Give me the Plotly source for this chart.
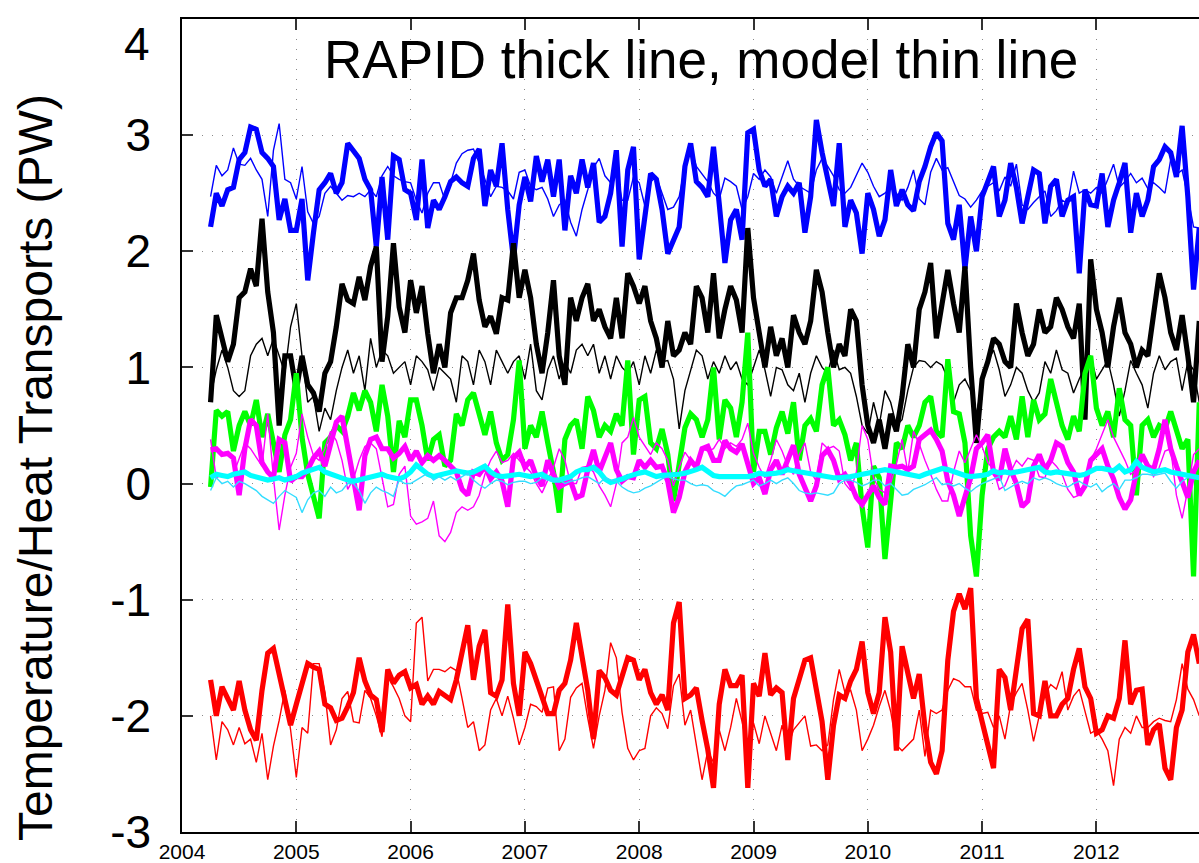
import plotly.graph_objects as go

# ---------------- data (values in PW, every 0.05 yr from 2004.25) ----------------
T0 = 2004.25
DT = 0.05

blue_rapid = [2.21, 2.5, 2.39, 2.53, 2.55, 2.79, 2.85, 3.07, 3.05, 2.85, 2.8, 2.73, 2.27, 2.45, 2.18, 2.18, 2.45, 1.75, 2.16, 2.53,
              2.59, 2.67, 2.5, 2.59, 2.93, 2.87, 2.8, 2.62, 2.53, 2.04, 2.64, 2.1, 2.82, 2.79, 2.53, 2.5, 2.27, 2.79, 2.2, 2.44,
              2.36, 2.47, 2.6, 2.64, 2.59, 2.56, 2.8, 2.88, 2.39, 2.7, 2.56, 2.93, 2.36, 1.93, 2.4,
              2.64, 2.43, 2.82, 2.6, 2.79, 2.47, 2.79, 2.18, 2.65, 2.5, 2.79, 2.55, 2.76, 2.25, 2.3, 2.5, 2.87, 2.04, 2.7, 2.9,
              1.93, 2.27, 2.67, 2.62, 2.36, 1.98, 2.1, 2.21, 2.73, 2.93, 2.6, 2.55, 2.47, 2.9, 2.41, 1.9, 2.27, 2.36, 2.1, 3.02,
              3.05, 2.7, 2.56, 2.62, 2.3, 2.47, 2.56, 2.5, 2.59, 2.16, 2.47, 3.13, 2.85, 2.6, 2.39, 2.93, 2.21, 2.44, 2.33, 1.98,
              2.5, 2.36, 2.13, 2.27, 2.7, 2.39, 2.53,
              2.4, 2.35, 2.6, 2.73, 2.9, 3.02, 2.95, 2.24, 2.1, 2.4, 1.85, 2.3, 2.0, 2.47, 2.6, 2.73, 2.3, 2.44, 2.76, 2.55,
              2.24, 2.5, 2.7, 2.67, 2.24, 2.56, 2.62, 2.3, 2.44, 2.47, 1.81, 2.53, 2.4, 2.39, 2.67, 2.21, 2.44, 2.59, 2.76, 2.16,
              2.5, 2.3, 2.44, 2.73, 2.79, 2.9, 2.85, 2.64, 3.08, 2.47, 1.67, 2.2]

blue_model = [2.47, 2.74, 2.65, 2.7, 2.89, 2.75, 2.74, 2.8, 2.7, 2.62, 2.3, 2.87, 3.1, 2.62, 2.59, 2.45, 2.73, 2.34, 2.24, 2.3,
              2.5, 2.56, 2.5, 2.44, 2.48, 2.47, 2.5, 2.47, 2.53, 2.47, 2.65, 2.73, 2.65, 2.62, 2.6, 2.59, 2.44, 2.33, 2.5, 2.59,
              2.59, 2.44, 2.59, 2.76, 2.84, 2.87, 2.88, 2.76, 2.62, 2.47, 2.56, 2.55, 2.52, 2.45, 2.68,
              2.7, 2.56, 2.53, 2.55, 2.45, 2.3, 2.4, 2.44, 2.25, 2.13, 2.36, 2.53, 2.72, 2.8, 2.65, 2.59, 2.7, 2.44, 2.44, 2.64,
              2.59, 2.39, 2.6, 2.64, 2.5, 2.36, 2.38, 2.47, 2.73, 2.9, 2.73, 2.67, 2.6, 2.5, 2.45, 2.63, 2.6, 2.56, 2.36, 2.47,
              2.67, 2.62, 2.7, 2.64, 2.5, 2.64, 2.78, 2.62, 2.56, 2.53, 2.5, 2.7, 2.8, 2.73, 2.65, 2.53, 2.5, 2.55, 2.66, 2.76,
              2.68, 2.56, 2.47, 2.5, 2.55, 2.5, 2.44,
              2.55, 2.7, 2.45, 2.4, 2.68, 2.8, 2.7, 2.72, 2.6, 2.48, 2.45, 2.38, 2.44, 2.52, 2.56, 2.59, 2.52, 2.64, 2.56, 2.75,
              2.4, 2.36, 2.42, 2.47, 2.52, 2.3, 2.35, 2.44, 2.41, 2.69, 2.5, 2.53, 2.5, 2.55, 2.5, 2.62, 2.75, 2.55, 2.6, 2.67,
              2.59, 2.63, 2.54, 2.59, 2.55, 2.5, 2.79, 2.66, 2.7, 2.47, 2.21, 2.2]

black_rapid = [0.7, 1.45, 1.25, 1.05, 1.2, 1.6, 1.65, 1.85, 1.7, 2.28, 1.65, 1.3, 0.5, 1.1, 1.1, 0.8, 1.1, 0.85, 0.78, 0.62,
               0.95, 1.05, 1.35, 1.72, 1.58, 1.55, 1.78, 1.58, 1.87, 2.04, 1.05, 1.44, 2.07, 1.52, 1.3, 1.75, 1.47, 1.7, 1.29, 0.95,
               1.2, 1.0, 1.47, 1.6, 1.6, 1.75, 1.98, 1.58, 1.35, 1.44, 1.29, 1.6, 1.58, 2.07, 1.6,
               1.84, 1.6, 1.2, 0.95, 1.3, 1.75, 1.1, 0.85, 1.6, 1.4, 1.6, 1.72, 1.4, 1.5, 1.35, 1.25, 1.6, 1.25, 1.81, 1.7,
               1.55, 1.7, 1.4, 1.25, 1.0, 1.4, 1.1, 1.15, 1.3, 1.2, 1.7, 1.6, 1.3, 1.81, 1.25, 1.5, 1.7, 1.58, 1.3, 2.2,
               1.6, 1.3, 1.0, 1.35, 1.1, 1.25, 1.0, 1.45, 1.3, 1.2, 1.4, 1.84, 1.65, 1.3, 1.0, 1.2, 1.1, 1.5, 1.4, 0.85,
               0.5, 0.35, 0.55, 0.3, 0.6, 0.45, 0.75,
               1.2, 1.0, 1.5, 1.65, 1.9, 1.25, 1.55, 1.84, 1.55, 1.3, 1.87, 1.0, 0.35, 0.9, 1.05, 1.25, 1.2, 1.05, 1.0, 1.55,
               1.3, 1.1, 1.2, 1.5, 1.3, 1.35, 1.6, 1.5, 1.35, 1.25, 1.55, 0.55, 1.93, 1.5, 1.3, 1.0, 1.35, 1.6, 1.3, 1.2,
               1.0, 1.15, 1.1, 1.5, 1.81, 1.6, 1.3, 1.15, 1.45, 1.1, 0.7, 1.4]

black_model = [0.75, 0.98, 1.15, 1.0, 0.8, 0.75, 0.8, 1.1, 1.2, 1.25, 1.1, 1.25, 1.1, 0.95, 1.35, 1.55, 1.1, 0.7, 0.75, 0.45,
               0.65, 0.55, 0.8, 1.0, 1.15, 0.95, 1.1, 0.8, 1.25, 1.0, 1.15, 1.1, 0.95, 1.0, 1.05, 0.85, 1.1, 1.05, 0.98, 0.8,
               1.0, 0.95, 0.9, 0.7, 1.1, 1.05, 0.85, 1.15, 1.05, 0.85, 1.15, 1.05, 0.95, 1.05, 1.1,
               0.9, 1.2, 0.8, 0.72, 0.98, 1.1, 0.9, 1.05, 0.95, 1.15, 1.2, 1.1, 1.2, 0.95, 1.1, 0.9, 1.1, 1.0, 0.95, 1.05,
               0.85, 1.1, 0.95, 1.15, 1.05, 1.06, 0.9, 0.47, 0.8, 0.98, 1.15, 1.1, 0.9, 1.05, 0.95, 1.1, 0.98, 1.05, 0.9, 0.85,
               1.0, 1.15, 0.98, 0.75, 1.0, 0.98, 0.85, 0.8, 0.95, 0.7, 0.95, 1.1, 1.0, 0.95, 1.15, 0.98, 1.0, 0.95, 0.75, 0.5,
               0.43, 0.7, 0.5, 0.8, 0.7, 0.5, 0.55,
               0.8, 1.0, 1.06, 1.05, 1.0, 1.05, 1.02, 0.9, 0.7, 0.85, 0.9, 0.8, 0.6, 0.85, 1.05, 1.15, 0.98, 0.75, 0.85, 1.0,
               0.95, 0.8, 0.7, 0.78, 1.05, 0.95, 1.15, 0.98, 0.95, 0.78, 0.9, 1.0, 1.1, 0.9, 0.98, 1.06, 0.85, 0.58, 0.8, 1.06,
               0.95, 0.85, 0.65, 0.95, 1.1, 0.98, 1.05, 1.08, 0.8, 1.05, 0.98, 0.7]

green_rapid = [-0.03, 0.63, 0.58, 0.62, 0.28, 0.5, 0.62, 0.5, 0.72, 0.4, 0.6, 0.35, 0.1, 0.42, 0.55, 0.95, 0.4, 0.08, -0.12, -0.3,
               0.35, 0.4, 0.5, 0.45, 0.58, 0.78, 0.63, 0.8, 0.7, 0.45, 0.85, 0.58, 0.1, 0.54, 0.4, 0.72, 0.72, 0.5, 0.2, 0.38,
               0.42, 0.15, 0.2, 0.6, 0.5, 0.72, 0.78, 0.6, 0.42, 0.62, 0.35, 0.2, 0.25, 0.55, 1.06,
               0.3, 0.5, 0.4, 0.62, 0.35, 0.1, -0.25, 0.38, 0.5, 0.55, 0.3, 0.75, 0.63, 0.4, 0.5, 0.45, 0.6, 0.5, 1.06, 0.25,
               0.72, 0.75, 0.35, 0.3, 0.47, 0.25, -0.15, 0.2, 0.48, 0.6, 0.55, 0.4, 0.55, 1.0, 0.38, 0.72, 0.65, 0.4, 0.7, 1.3,
               0.1, 0.45, 0.45, 0.25, 0.48, 0.62, 0.43, 0.7, 0.2, 0.5, 0.56, 0.45, 0.85, 1.0, 0.5, 0.55, 0.42, 0.2, 0.35, -0.2,
               -0.55, 0.15, 0.05, -0.65, -0.1, 0.35, 0.3,
               0.5, 0.4, 0.5, 0.7, 0.75, 0.45, 0.4, 1.07, 0.62, 0.6, 0.35, -0.45, -0.8, -0.1, 0.3, 0.4, 0.45, 0.4, 0.58, 0.38,
               0.75, 0.4, 0.72, 0.55, 0.6, 0.9, 0.7, 0.5, 0.38, 0.58, 0.45, 0.95, 1.1, 0.65, 0.5, 0.62, 0.4, 0.82, 0.55, 0.5,
               -0.1, 0.5, 0.55, 0.4, 0.5, 0.47, 0.62, 0.45, 0.3, 0.38, -0.8, 0.7]

magenta_rapid = [0.29, 0.3, 0.25, 0.26, 0.22, -0.1, 0.3, 0.55, 0.5, 0.18, 0.1, 0.05, 0.38, 0.35, 0.02, 0.06, 0.06, 0.12, 0.22, 0.28,
                 0.15, 0.32, 0.53, 0.58, 0.32, 0.06, -0.23, 0.24, 0.38, 0.4, 0.3, 0.3, 0.22, 0.26, 0.32, 0.2, 0.28, 0.18, 0.24, 0.2,
                 0.24, 0.2, 0.15, 0.1, -0.05, -0.1, 0.1, 0.08, 0.15, 0.04, 0.1, 0.02, -0.2, 0.22, 0.27,
                 0.14, 0.2, 0.06, -0.02, 0.2, 0.08, -0.03, 0.0, 0.02, -0.12, -0.1, 0.12, 0.29, 0.1, 0.23, 0.35, 0.12, 0.02, 0.06, 0.05,
                 0.2, 0.14, 0.2, 0.14, 0.15, 0.02, -0.25, -0.12, 0.1, 0.2, 0.14, 0.3, 0.32, 0.2, 0.2, 0.37, 0.3, 0.27, 0.34, 0.17,
                 0.0, 0.05, -0.09, 0.12, 0.2, 0.08, 0.22, 0.33, 0.08, -0.05, -0.15, -0.02, 0.24, 0.29, 0.2, 0.04, 0.08, 0.0, -0.12, -0.18,
                 -0.1, -0.02, -0.12, -0.18, 0.15, 0.14, 0.15,
                 0.12, 0.15, 0.38, 0.42, 0.46, 0.38, 0.28, 0.02, -0.1, -0.28, -0.1, 0.05, 0.3, 0.35, 0.42, 0.1, 0.03, 0.3, 0.12, 0.0,
                 -0.2, -0.15, 0.15, 0.25, 0.12, 0.2, 0.35, 0.32, 0.18, 0.1, -0.1, -0.02, 0.2, 0.25, 0.3, 0.15, 0.04, -0.12, -0.22, -0.14,
                 0.1, 0.25, 0.15, 0.12, 0.3, 0.55, 0.3, 0.15, 0.02, -0.12, 0.1, 0.2]

magenta_model = [0.38, 0.05, 0.08, 0.06, 0.08, 0.22, 0.35, 0.3, 0.22, 0.15, 0.6, 0.05, -0.4, -0.1, 0.14, 0.26, 0.6, 0.4, 0.24, 0.2,
                 0.3, 0.45, 0.37, 0.2, -0.05, 0.04, 0.2, 0.32, 0.35, 0.3, 0.05, -0.2, -0.18, 0.08, 0.15, -0.28, -0.35, -0.33, -0.3, -0.15,
                 -0.45, -0.5, -0.42, -0.25, -0.2, -0.23, -0.2, -0.1, 0.08, 0.2, 0.28, 0.18, 0.2, 0.26, 0.2,
                 0.15, 0.1, 0.0, -0.08, 0.03, 0.14, 0.3, 0.2, 0.0, 0.0, 0.14, 0.15, 0.1, -0.02, -0.1, -0.2, 0.0, 0.35, 0.4, 0.57,
                 0.4, 0.33, 0.25, 0.35, 0.3, 0.2, -0.02, 0.14, 0.27, 0.2, 0.12, 0.3, 0.28, 0.3, 0.38, 0.3, 0.35, 0.32, 0.38, 0.52,
                 0.26, 0.14, 0.05, 0.2, 0.38, 0.28, 0.15, 0.08, 0.25, 0.35, 0.1, 0.02, 0.35, 0.3, 0.32, 0.28, 0.0, -0.06, 0.1, 0.5,
                 0.38, 0.05, -0.05, -0.08, 0.0, 0.17, 0.38,
                 0.1, 0.45, 0.34, 0.2, 0.08, -0.05, -0.15, -0.15, 0.1, 0.28, 0.18, 0.3, 0.42, 0.32, 0.18, 0.12, -0.05, -0.02, 0.1, 0.2,
                 0.15, 0.22, 0.2, 0.06, 0.05, 0.2, 0.15, 0.08, -0.05, -0.12, -0.1, 0.0, 0.2, 0.3, 0.43, 0.55, 0.4, 0.3, 0.2, 0.08,
                 0.12, 0.22, 0.15, 0.06, 0.14, 0.28, 0.3, -0.1, -0.3, -0.05, 0.25, 0.3]

cyan_rapid = [0.05, 0.08, 0.07, 0.06, 0.08, 0.09, 0.1, 0.07, 0.06, 0.05, 0.03, 0.04, 0.05, 0.03, 0.04, 0.06, 0.09, 0.11, 0.12, 0.14,
              0.1, 0.08, 0.06, 0.04, 0.03, 0.02, 0.03, 0.04, 0.05, 0.07, 0.08, 0.06, 0.05, 0.04, 0.06, 0.1, 0.16, 0.12, 0.08, 0.06,
              0.07, 0.08, 0.09, 0.11, 0.1, 0.09, 0.1, 0.13, 0.15, 0.1, 0.07, 0.06, 0.07, 0.08, 0.08,
              0.07, 0.06, 0.07, 0.08, 0.05, 0.03, 0.03, 0.04, 0.06, 0.1, 0.12, 0.12, 0.14, 0.1, 0.04, 0.01, 0.02, 0.04, 0.06, 0.08,
              0.09, 0.1, 0.08, 0.06, 0.07, 0.07, 0.07, 0.08, 0.09, 0.1, 0.12, 0.14, 0.1, 0.07, 0.06, 0.06, 0.06, 0.05, 0.05, 0.06,
              0.07, 0.09, 0.08, 0.08, 0.09, 0.1, 0.12, 0.11, 0.1, 0.09, 0.08, 0.07, 0.06, 0.06, 0.05, 0.05, 0.05, 0.06, 0.07, 0.08,
              0.09, 0.1, 0.11, 0.12, 0.11, 0.1, 0.09,
              0.08, 0.07, 0.06, 0.08, 0.1, 0.11, 0.13, 0.12, 0.1, 0.09, 0.07, 0.06, 0.06, 0.07, 0.08, 0.11, 0.09, 0.1, 0.09, 0.1,
              0.1, 0.11, 0.12, 0.14, 0.1, 0.09, 0.1, 0.09, 0.08, 0.08, 0.07, 0.08, 0.1, 0.13, 0.13, 0.12, 0.11, 0.15, 0.1, 0.12,
              0.19, 0.14, 0.12, 0.1, 0.11, 0.12, 0.1, 0.09, 0.08, 0.06, 0.05, 0.05]

cyan_model = [-0.06, 0.05, 0.0, 0.02, -0.03, 0.02, 0.0, -0.03, -0.06, -0.11, -0.14, -0.17, -0.11, -0.06, -0.09, -0.12, -0.25, -0.14, -0.08, -0.06,
              -0.11, -0.03, -0.08, -0.06, 0.0, 0.0, -0.06, -0.17, -0.08, -0.03, -0.06, -0.08, -0.11, 0.03, 0.0, 0.0, 0.03, 0.06, 0.09, 0.03,
              0.06, 0.03, 0.06, 0.03, 0.06, 0.09, 0.03, -0.01, -0.04, 0.0, 0.03, 0.02, -0.01, 0.01, 0.02,
              0.02, 0.0, 0.01, 0.05, 0.03, 0.02, 0.03, 0.0, 0.02, 0.03, 0.05, 0.06, 0.03, 0.0, 0.05, 0.03, 0.02, -0.03, -0.06, -0.08,
              -0.07, -0.04, -0.02, 0.01, 0.04, 0.06, 0.04, 0.03, 0.03, 0.0, -0.02, -0.01, -0.02, -0.06, -0.08, -0.11, -0.06, -0.02, -0.01, 0.01,
              0.03, -0.02, 0.0, 0.03, 0.0, 0.03, 0.05, 0.0, -0.06, -0.08, -0.09, -0.08, -0.09, -0.1, -0.08, 0.0, 0.03, 0.03, 0.01, -0.02,
              0.0, 0.03, 0.03, -0.02, 0.0, -0.05, -0.1,
              -0.09, -0.05, -0.03, -0.01, 0.02, 0.05, -0.01, 0.0, -0.02, 0.0, -0.04, -0.07, -0.03, 0.0, 0.02, 0.04, 0.06, -0.06, -0.03, 0.0,
              0.02, 0.0, 0.05, 0.03, 0.05, 0.03, 0.0, -0.02, -0.03, 0.0, 0.02, -0.01, -0.03, 0.0, -0.07, -0.03, 0.0, -0.05, 0.03, 0.03,
              0.05, 0.08, 0.08, 0.07, 0.08, 0.09, 0.02, -0.04, 0.02, 0.05, 0.06, 0.05]

red_rapid = [-1.69, -2.0, -1.75, -1.86, -1.95, -1.7, -1.95, -2.12, -2.21, -1.78, -1.46, -1.42, -1.64, -1.86, -2.08, -1.9, -1.72, -1.55, -1.58, -1.6,
             -1.9, -1.93, -2.04, -2.02, -1.92, -1.8, -1.5, -1.7, -1.82, -1.86, -2.14, -1.6, -1.72, -1.65, -1.62, -1.76, -1.73, -1.9, -1.83, -1.9,
             -1.79, -1.83, -1.86, -1.69, -1.43, -1.22, -1.69, -1.4, -1.26, -1.8, -1.83, -1.69, -1.04, -1.72, -2.0,
             -1.45, -1.55, -1.7, -1.82, -1.98, -1.98, -1.78, -1.72, -1.52, -1.2, -1.5, -1.78, -2.2, -1.61, -1.67, -1.78, -1.82, -1.64, -1.5, -1.52,
             -1.69, -1.6, -1.8, -1.9, -1.82, -1.95, -1.2, -1.02, -1.85, -1.82, -1.76, -2.04, -2.29, -2.62, -1.9, -1.6, -1.74, -1.74, -1.65, -2.62,
             -1.72, -1.83, -1.46, -1.82, -1.76, -1.8, -2.38, -1.85, -1.7, -1.52, -1.5, -1.8, -2.05, -2.55, -2.08, -1.82, -1.85, -1.7, -1.6, -1.36,
             -1.8, -1.98, -1.8, -1.15, -1.45, -2.3, -1.4,
             -1.63, -1.85, -1.64, -2.1, -2.4, -2.5, -2.3, -1.52, -1.1, -0.95, -1.08, -0.9, -1.85, -2.04, -2.25, -2.45, -1.6, -1.67, -1.95, -1.61,
             -1.25, -1.17, -1.98, -2.0, -1.7, -2.0, -2.0, -1.9, -1.85, -1.6, -1.42, -1.75, -1.85, -2.15, -2.12, -2.0, -2.02, -1.85, -1.35, -1.9,
             -1.78, -1.77, -2.25, -2.12, -2.07, -2.45, -2.55, -2.1, -1.95, -1.45, -1.3, -1.55]

red_model = [-2.0, -2.38, -2.05, -2.12, -2.25, -2.1, -2.24, -2.2, -2.4, -2.15, -2.55, -2.26, -2.04, -1.78, -2.12, -2.53, -2.1, -2.15, -1.55, -1.55,
             -1.8, -2.25, -2.12, -1.85, -1.79, -2.05, -2.06, -1.78, -1.85, -2.0, -2.18, -1.66, -1.75, -1.85, -2.0, -2.05, -1.2, -1.15, -1.7, -1.6,
             -1.6, -1.62, -1.58, -1.61, -1.85, -2.1, -2.05, -2.3, -2.25, -1.95, -1.85, -2.0, -1.83, -2.02, -2.25,
             -2.1, -1.9, -1.92, -1.97, -1.76, -1.75, -2.3, -2.2, -1.84, -1.76, -1.72, -2.02, -2.28, -2.0, -1.78, -1.37, -1.5, -1.97, -2.28, -2.38,
             -2.3, -2.28, -2.0, -1.93, -1.98, -2.11, -1.74, -1.64, -2.08, -1.95, -2.25, -2.55, -2.3, -2.4, -2.12, -2.3, -2.1, -1.85, -2.05, -2.3,
             -2.06, -2.24, -2.0, -2.15, -2.3, -2.08, -2.27, -2.12, -2.06, -2.0, -2.26, -2.25, -2.3, -2.25, -1.86, -1.6, -1.8, -1.78, -1.95, -2.3,
             -2.2, -2.08, -1.92, -1.78, -1.96, -2.25, -2.3,
             -2.25, -2.2, -1.95, -2.35, -1.95, -1.98, -1.95, -1.78, -1.68, -1.7, -1.75, -1.75, -1.95, -1.98, -1.97, -2.1, -2.0, -2.2, -1.9, -1.8,
             -1.72, -1.95, -2.22, -2.0, -1.82, -1.73, -1.77, -1.62, -1.95, -1.83, -1.77, -1.95, -2.15, -2.12, -2.2, -2.3, -2.6, -2.2, -2.1, -2.15,
             -2.0, -2.1, -2.1, -2.05, -2.02, -2.04, -2.05, -1.86, -1.55, -1.77, -1.86, -2.0]

year_ticks = [2004, 2005, 2006, 2007, 2008, 2009, 2010, 2011, 2012]
y_ticks = [-3, -2, -1, 0, 1, 2, 3, 4]
y_tick_text = ["-3", "-2", "-1", "0", "1", "2", "3", ""]
top_tick_label = "4"
title_text = "RAPID thick line, model thin line"
y_title = "Temperature/Heat Transports (PW)"


def times(vals):
    return [round(T0 + DT * k, 3) for k in range(len(vals))]


THICK = 5.2
THIN = 1.4

series = [
    (blue_rapid, "#0000ff", THICK),
    (blue_model, "#0000ff", THIN),
    (black_rapid, "#000000", THICK),
    (black_model, "#000000", THIN),
    (green_rapid, "#00ff00", THICK),
    (magenta_rapid, "#ff00ff", THICK),
    (magenta_model, "#ff00ff", THIN),
    (cyan_rapid, "#00ffff", THICK),
    (cyan_model, "#33ddff", THIN),
    (red_rapid, "#ff0000", THICK),
    (red_model, "#ff0000", THIN),
]

fig = go.Figure()
for vals, col, w in series:
    fig.add_trace(go.Scatter(x=times(vals), y=vals, mode="lines",
                             line=dict(color=col, width=w), showlegend=False,
                             hoverinfo="skip"))

L, R, T, B = 182, 0, 19, 31
W, H = 1199, 863
plot_w = W - L - R
plot_h = H - T - B

fig.update_layout(
    width=W, height=H,
    margin=dict(l=L, r=R, t=T, b=B, pad=0),
    paper_bgcolor="white", plot_bgcolor="white",
    font=dict(family="Liberation Sans, Arial, sans-serif", color="black"),
    showlegend=False,
)

grid = dict(showgrid=True, gridcolor="#8a8a8a", gridwidth=1, griddash="1px,9px")

fig.update_xaxes(range=[2004, 2004 + plot_w / 114.3], tickvals=year_ticks,
                 ticktext=[str(y) for y in year_ticks],
                 ticks="inside", ticklen=11, tickwidth=1.5, tickcolor="#333333",
                 showline=True, linecolor="black", linewidth=1.5, mirror="ticks",
                 zeroline=False, tickfont=dict(size=21, color="black"), **grid)

fig.update_yaxes(range=[-3, 4], tickvals=y_ticks, ticktext=y_tick_text,
                 ticks="inside", ticklen=11, tickwidth=1.5, tickcolor="#333333",
                 showline=True, linecolor="black", linewidth=1.5, mirror=False,
                 zeroline=False, tickfont=dict(size=46, color="black"),
                 ticklabelstandoff=20, **grid)

# top "4" label sits lower, as in the original figure
fig.add_annotation(text=top_tick_label, xref="paper", yref="paper",
                   x=(152 - L) / plot_w, y=(H - B - 44) / plot_h,
                   xanchor="right", yanchor="middle", showarrow=False,
                   font=dict(size=46, color="black"))

fig.add_annotation(text=title_text, xref="paper", yref="paper",
                   x=(701 - L) / plot_w, y=(H - B - 60) / plot_h,
                   xanchor="center", yanchor="middle", showarrow=False,
                   font=dict(size=53, color="black"))

fig.add_annotation(text=y_title, xref="paper", yref="paper",
                   x=(35 - L) / plot_w, y=(H - B - 468) / plot_h,
                   xanchor="center", yanchor="middle", showarrow=False,
                   textangle=-90, font=dict(size=48, color="black"))

fig.write_html("out.html")
